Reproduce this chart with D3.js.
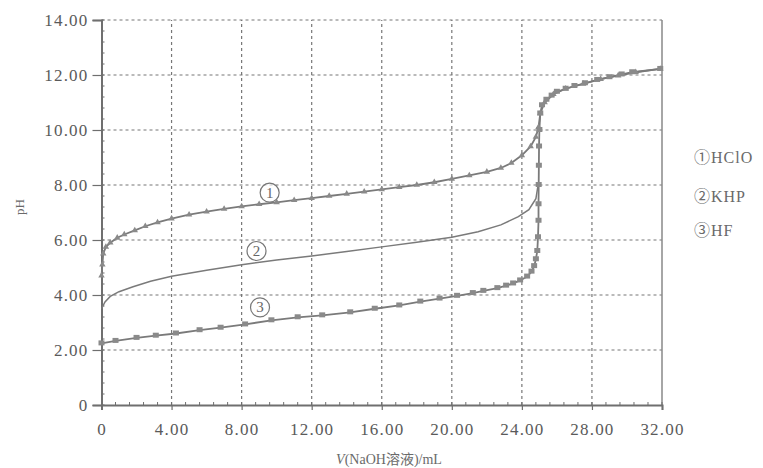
<!DOCTYPE html>
<html><head><meta charset="utf-8">
<script src="https://cdn.jsdelivr.net/npm/d3@7"></script>
<style>
html,body{margin:0;padding:0;background:#fff;}
svg{display:block;}
</style></head>
<body><svg id="c" width="763" height="468"></svg>
<script>
// ---- data ----
const xTicks = [0,4,8,12,16,20,24,28,32];
const xTickLabels = ["0","4.00","8.00","12.00","16.00","20.00","24.00","28.00","32.00"];
const yTicks = [0,2,4,6,8,10,12,14];
const yTickLabels = ["0","2.00","4.00","6.00","8.00","10.00","12.00","14.00"];
const seriesNames = ["①HClO","②KHP","③HF"];

// ① HClO
const hcloV  = [0,0.05,0.1,0.25,0.5,0.9,1.3,1.9,2.5,3.2,4,5,6,7,8,9,10,11,12,13,14,15,16,17,18,19,20,21,22,22.8,23.4,24,24.5,24.8,24.95,25.05,25.3,25.8,26.5,27.5,28.5,29.5,30.5,31.9];
const hcloPH = [4.7,5.1,5.5,5.75,5.9,6.08,6.2,6.35,6.5,6.64,6.78,6.92,7.03,7.13,7.22,7.3,7.37,7.45,7.52,7.6,7.68,7.76,7.84,7.92,8.0,8.1,8.22,8.35,8.48,8.62,8.8,9.08,9.4,9.75,10.1,10.6,11.0,11.3,11.5,11.68,11.85,11.98,12.1,12.22];
// ② KHP
const khpV  = [0,0.2,0.5,1,1.8,2.8,4,6,8,10,12,14,16,18,20,21.5,22.8,23.8,24.4,24.8,24.95];
const khpPH = [3.5,3.75,3.95,4.12,4.3,4.5,4.68,4.9,5.1,5.27,5.42,5.58,5.75,5.92,6.1,6.3,6.55,6.85,7.1,7.5,8.1];
// ③ HF
const hfV  = [0,0.8,2,3.1,4.25,5.6,6.8,8.2,9.7,11.2,12.6,14.2,15.6,17,18.2,19.3,20.3,21.2,21.8,22.6,23.1,23.5,23.9,24.3,24.55,24.7,24.8,24.88,24.92,24.95,24.95,24.96,24.97,24.98,25,25.05,25.15,25.4,25.7,26,26.5,27,27.6,28.3,29,29.7,30.3,31.9];
const hfPH = [2.24,2.33,2.44,2.52,2.6,2.72,2.81,2.93,3.08,3.19,3.26,3.37,3.5,3.62,3.76,3.87,3.97,4.07,4.15,4.25,4.34,4.42,4.53,4.67,4.85,5.05,5.3,5.6,6.1,6.7,7.3,8.0,8.7,9.4,10.0,10.6,10.9,11.1,11.25,11.39,11.5,11.6,11.7,11.82,11.92,12.02,12.1,12.22];
// circled labels on curves: [V, pH]
const curveTagV  = [9.6, 8.85, 9.05];
const curveTagPH = [7.72, 5.6, 3.55];
const curveTagText = ["1","2","3"];

// ---- drawing ----
const svg = d3.select("#c");
const x = d3.scaleLinear().domain([0,32]).range([101.5,662]);
const y = d3.scaleLinear().domain([0,14]).range([405,20]);
const ink = "#6f6f6f";
const serif = "\"Liberation Serif\",\"Noto Sans CJK SC\",serif";

// grid
const g = svg.append("g");
g.selectAll(".gx").data(xTicks.filter(d=>d>0 && d<32)).join("line")
  .attr("x1",d=>x(d)).attr("x2",d=>x(d)).attr("y1",y(0)).attr("y2",y(14))
  .attr("stroke","#777").attr("stroke-width",1.2).attr("stroke-dasharray","3,3");
g.selectAll(".gy").data(yTicks.filter(d=>d>0)).join("line")
  .attr("x1",x(0)).attr("x2",x(32)).attr("y1",d=>y(d)).attr("y2",d=>y(d))
  .attr("stroke","#777").attr("stroke-width",1.2).attr("stroke-dasharray","3,3");

// right border
svg.append("line").attr("x1",x(32)).attr("x2",x(32)).attr("y1",y(0)).attr("y2",y(14))
  .attr("stroke","#888").attr("stroke-width",1.5);

// minor ticks
const minorX = d3.range(0,32.01,0.8);
svg.append("g").selectAll("line").data(minorX).join("line")
  .attr("x1",d=>x(d)).attr("x2",d=>x(d)).attr("y1",y(0)).attr("y2",y(0)-3)
  .attr("stroke",ink).attr("stroke-width",1);
const minorY = d3.range(0,14.01,0.4);
svg.append("g").selectAll("line").data(minorY).join("line")
  .attr("x1",x(0)).attr("x2",x(0)+3).attr("y1",d=>y(d)).attr("y2",d=>y(d))
  .attr("stroke",ink).attr("stroke-width",1);

// axes
const xAxis = d3.axisBottom(x).tickValues(xTicks).tickFormat((d,i)=>xTickLabels[i]).tickSize(5).tickPadding(13);
const yAxis = d3.axisLeft(y).tickValues(yTicks).tickFormat((d,i)=>yTickLabels[i]).tickSize(9).tickPadding(4);
const gx = svg.append("g").attr("transform",`translate(0,${y(0)})`).call(xAxis);
const gy = svg.append("g").attr("transform",`translate(${x(0)},0)`).call(yAxis);
gx.attr("font-family",null); gy.attr("font-family",null);
[gx,gy].forEach(a=>{
  a.select(".domain").attr("stroke",ink).attr("stroke-width",2);
  a.selectAll(".tick line").attr("stroke",ink).attr("stroke-width",1.2);
  a.selectAll("text").attr("fill","#5a5a5a").style("font-family",serif).attr("font-size",17)
    .attr("letter-spacing",1.2);
});

// curves
const line = d3.line().x(d=>x(d[0])).y(d=>y(d[1]));
const sHClO = hcloV.map((v,i)=>[v,hcloPH[i]]);
const sKHP = khpV.map((v,i)=>[v,khpPH[i]]);
const sHF = hfV.map((v,i)=>[v,hfPH[i]]);

svg.append("path").datum(sKHP).attr("d",line).attr("fill","none").attr("stroke","#7a7a7a").attr("stroke-width",1.5);
svg.append("path").datum(sHClO).attr("d",line).attr("fill","none").attr("stroke","#7a7a7a").attr("stroke-width",1.8);
svg.append("path").datum(sHF).attr("d",line).attr("fill","none").attr("stroke","#7a7a7a").attr("stroke-width",1.8);

// markers
svg.append("g").selectAll("path").data(sHClO).join("path")
  .attr("d",d3.symbol(d3.symbolTriangle,18))
  .attr("transform",d=>`translate(${x(d[0])},${y(d[1])})`)
  .attr("fill","#8a8a8a");
svg.append("g").selectAll("rect").data(sHF).join("rect")
  .attr("x",d=>x(d[0])-3).attr("y",d=>y(d[1])-3).attr("width",6).attr("height",5)
  .attr("fill","#8a8a8a");

// circled tags
const tags = svg.append("g");
curveTagText.forEach((t,i)=>{
  const cx = x(curveTagV[i]), cy = y(curveTagPH[i]);
  tags.append("circle").attr("cx",cx).attr("cy",cy).attr("r",9.5)
    .attr("fill","#fff").attr("fill-opacity",0.6).attr("stroke","#777").attr("stroke-width",1.2);
  tags.append("text").attr("x",cx).attr("y",cy+5).attr("text-anchor","middle")
    .style("font-family",serif).attr("font-size",15).attr("fill","#666").text(t);
});

// legend
const legY = [158,197,231];
svg.append("g").selectAll("text").data(seriesNames).join("text")
  .attr("x",694).attr("y",(d,i)=>legY[i]+5)
  .style("font-family",serif).attr("font-size",16).attr("fill","#6a6a6a")
  .attr("letter-spacing",1).text(d=>d);

// axis titles
svg.append("text").attr("transform","translate(24,207) rotate(-90)")
  .attr("text-anchor","middle").style("font-family",serif).attr("font-size",13)
  .attr("fill","#6a6a6a").text("pH");
const xt = svg.append("text").attr("x",389).attr("y",464).attr("text-anchor","middle")
  .style("font-family",serif).attr("font-size",14).attr("fill","#6a6a6a");
xt.append("tspan").attr("font-style","italic").text("V");
xt.append("tspan").text("(NaOH溶液)/mL");
</script>
</body></html>
